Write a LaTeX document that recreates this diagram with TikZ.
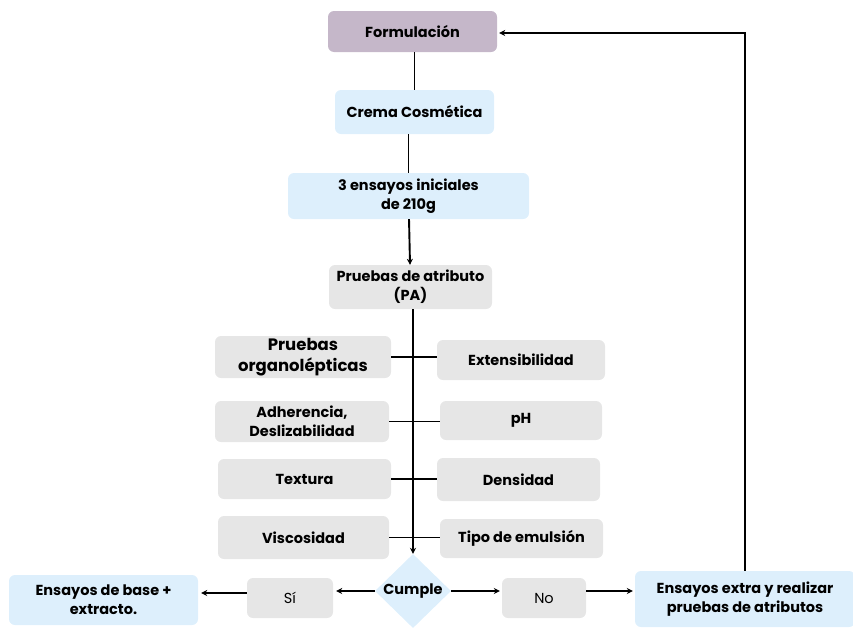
\documentclass[tikz,border=0pt]{standalone}
\usepackage{fontspec}
\setmainfont{Poppins}
\usetikzlibrary{shapes.geometric,arrows.meta}
\definecolor{malva}{HTML}{C5B7C9}
\definecolor{celeste}{HTML}{DDEFFC}
\definecolor{gris}{HTML}{E6E6E6}
\tikzset{
  caja/.style={rounded corners=6pt, align=center, inner sep=0pt,
    font=\fontsize{14.5}{19}\selectfont\bfseries},
  flecha/.style={-{Stealth[length=6pt,width=6pt]}, line width=1.9pt},
  linea/.style={line width=1.9pt}
}
\begin{document}
\begin{tikzpicture}[x=1pt,y=-1pt]
  \useasboundingbox (0,0) rectangle (853,627);
  % columna central
  \node[caja, fill=malva, minimum width=169pt, minimum height=41pt] (form) at (412.5,31.5) {Formulación};
  \node[caja, fill=celeste, minimum width=159pt, minimum height=44pt] (crema) at (414.5,112) {Crema Cosmética};
  \node[caja, fill=celeste, minimum width=241pt, minimum height=46pt] (ensayos) at (408.5,196) {3 ensayos iniciales\\de 210g};
  \node[caja, fill=gris, minimum width=163pt, minimum height=44pt] (pa) at (410.5,287) {Pruebas de atributo\\(PA)};
  % pruebas
  \node[caja, fill=gris, minimum width=176pt, minimum height=42pt, font=\fontsize{16.5}{21}\selectfont\bfseries] (organo) at (303,357) {Pruebas\\organolépticas};
  \node[caja, fill=gris, minimum width=168pt, minimum height=40pt] (exten) at (521,360) {Extensibilidad};
  \node[caja, fill=gris, minimum width=174pt, minimum height=41pt] (adher) at (302,421.5) {Adherencia,\\Deslizabilidad};
  \node[caja, fill=gris, minimum width=162pt, minimum height=39pt] (ph) at (521,420.5) {pH};
  \node[caja, fill=gris, minimum width=173pt, minimum height=40pt] (textura) at (304.5,479) {Textura};
  \node[caja, fill=gris, minimum width=163pt, minimum height=43pt] (densidad) at (518.5,479.5) {Densidad};
  \node[caja, fill=gris, minimum width=171pt, minimum height=43pt] (visco) at (303.5,537.5) {Viscosidad};
  \node[caja, fill=gris, minimum width=163pt, minimum height=39pt] (tipo) at (521.5,538.5) {Tipo de emulsión};
  % decision
  \node[diamond, fill=celeste, inner sep=0pt, minimum width=76pt, minimum height=74pt,
    font=\fontsize{14.5}{19}\selectfont\bfseries] (cumple) at (413,591) {Cumple};
  \node[caja, fill=gris, minimum width=86pt, minimum height=40pt, font=\fontsize{14.5}{19}\selectfont] (si) at (290,598) {Sí};
  \node[caja, fill=celeste, minimum width=189pt, minimum height=50pt] (base) at (103.5,600) {Ensayos de base +\\extracto.};
  \node[caja, fill=gris, minimum width=84pt, minimum height=40pt, font=\fontsize{14.5}{19}\selectfont] (no) at (544,598) {No};
  \node[caja, fill=celeste, minimum width=220pt, minimum height=56pt] (extra) at (745,599) {Ensayos extra y realizar\\pruebas de atributos};
  % conectores
  \draw[linea] (crema.north |- form.south) -- (crema.north);
  \draw[linea] (crema.south -| ensayos) -- (ensayos);
  \draw[flecha] (ensayos) -- (pa);
  \draw[flecha] (cumple.north |- pa.south) -- (cumple.north);
  \draw[linea] (organo.east) -- (organo.east -| exten.west);
  \draw[linea] (adher.east) -- (adher.east -| ph.west);
  \draw[linea] (textura.east) -- (textura.east -| densidad.west);
  \draw[linea] (visco.east) -- (visco.east -| tipo.west);
  \draw[flecha] (cumple.west) -- ([xshift=3pt]cumple.west -| si.east);
  \draw[flecha] ([yshift=5pt]si.west) -- ([xshift=3pt,yshift=5pt]si.west -| base.east);
  \draw[flecha] (cumple.east) -- ([xshift=-2pt]cumple.east -| no.west);
  \draw[flecha] (no.east |- cumple.east) -- ([xshift=-2pt]cumple.east -| extra.west);
  \draw[flecha] (extra.north) |- ([xshift=2pt,yshift=-1.5pt]form.east);
\end{tikzpicture}
\end{document}
